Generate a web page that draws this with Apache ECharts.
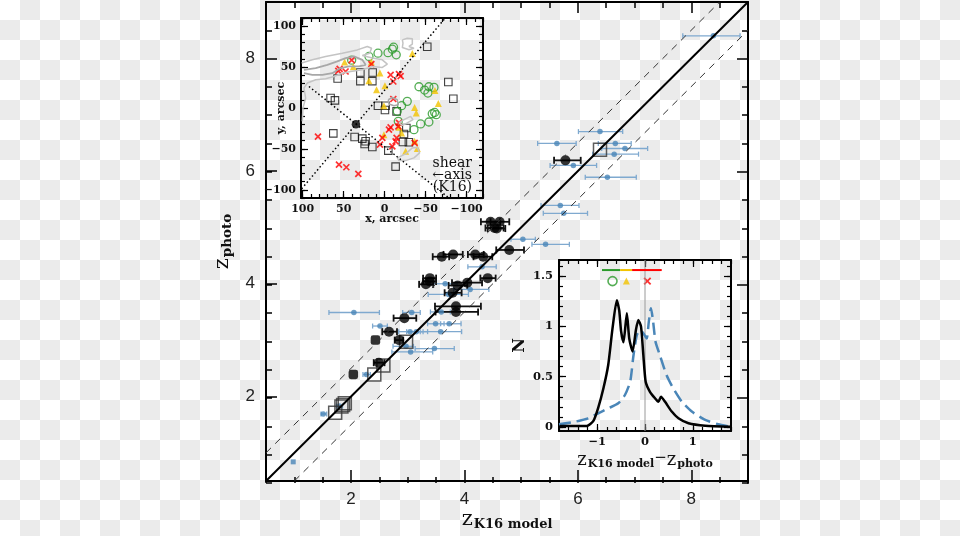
<!DOCTYPE html>
<html><head><meta charset="utf-8">
<script src="https://cdn.jsdelivr.net/npm/echarts@6/dist/echarts.min.js"></script>
<style>
html,body{margin:0;padding:0;width:960px;height:536px;overflow:hidden;
background: repeating-conic-gradient(#ebebeb 0 25%, #ffffff 0 50%) 0 0/40px 40px;}
#c{width:960px;height:536px;}
</style></head><body><div id="c"></div>
<script>
// ---------- tick values ----------
const mainMajor = [2,4,6,8];
const mainMinor = [0.5,1,1.5,2,2.5,3,3.5,4,4.5,5,5.5,6,6.5,7,7.5,8,8.5,9];
const mapMajor = [-100,-50,0,50,100];
const mapMinor = [-120,-110,-100,-90,-80,-70,-60,-50,-40,-30,-20,-10,0,10,20,30,40,50,60,70,80,90,100,110];
const histXMajor = [-1,0,1];
const histXMinor = [-1.8,-1.6,-1.4,-1.2,-1,-0.8,-0.6,-0.4,-0.2,0,0.2,0.4,0.6,0.8,1,1.2,1.4,1.6,1.8];
const histYMajor = [0,0.5,1,1.5];
const histYMinor = [0,0.1,0.2,0.3,0.4,0.5,0.6,0.7,0.8,0.9,1,1.1,1.2,1.3,1.4,1.5,1.6];

// ---------- main plot data: [zK16, zphoto, xlo, xhi] ----------
const blackPts = [
 [5.78,6.19,5.58,6.05],[4.46,5.10,4.29,4.63],[4.62,5.10,4.46,4.79],[4.53,4.99,4.37,4.69],
 [4.57,4.98,4.41,4.72],[4.79,4.60,4.56,5.05],[4.19,4.52,4.06,4.34],[4.33,4.48,4.16,4.49],
 [3.80,4.52,3.63,3.97],[3.60,4.48,3.44,3.73],[4.41,4.10,4.28,4.55],[4.05,4.02,3.78,4.31],
 [3.88,3.97,3.72,4.05],[3.79,3.84,3.65,3.95],[3.39,4.10,3.27,3.50],[3.39,4.04,3.27,3.50],
 [3.32,3.99,3.20,3.45],[3.85,3.60,3.48,4.29],[3.85,3.50,3.49,4.24],[2.94,3.39,2.75,3.15],
 [2.67,3.15,2.55,2.81],[2.85,3.00,2.77,2.92],[2.49,2.60,2.40,2.59]
];
const blackFilledSq = [[2.43,3.00],[2.04,2.39]];
const bluePts = [
 [8.39,8.40,7.85,8.86],[6.39,6.70,6.01,6.79],[5.63,6.49,5.29,5.97],[6.66,6.49,6.36,6.94],
 [6.83,6.40,6.42,7.23],[6.64,6.30,6.26,7.07],[5.92,6.10,5.51,6.33],[6.52,5.89,6.13,7.03],
 [5.69,5.39,5.35,6.02],[5.75,5.25,5.39,6.17],[5.03,4.79,4.82,5.25],[5.43,4.70,5.19,5.85],
 [4.31,4.30,4.06,4.56],[4.10,3.90,3.81,4.43],[3.66,4.00,3.45,3.87],[3.72,3.81,3.36,4.07],
 [3.49,3.29,3.35,3.64],[3.73,3.29,3.58,3.94],[3.58,3.15,3.22,3.95],[3.47,2.85,3.13,3.82],
 [2.05,3.49,1.61,2.50],[3.07,3.49,2.91,3.22],[3.59,3.50,3.40,3.75],[2.51,3.25,2.38,2.64],
 [3.04,3.15,2.84,3.27],[3.15,3.15,2.98,3.35],[2.97,2.89,2.74,3.10],[3.05,2.79,2.72,3.44],
 [2.27,2.39,2.21,2.34],[1.79,1.83,1.74,1.85],[1.51,1.69,1.47,1.57]
];
const blueNoErr = [[0.98,0.84]];
const openSq = [[6.39,6.38],[2.97,2.97],[2.57,2.55],[2.41,2.39],[1.89,1.88],[1.86,1.85],[1.83,1.82],[1.72,1.71]];
const oneToOne = [[0.5,0.5],[9,9]];
const upperDash = [[0.5,1.0],[8.5,9]];
const lowerDash = [[1.0,0.5],[9,8.5]];

// ---------- map inset data (x, y arcsec) ----------
const mapGreen = [[40.2,58.5],[19.1,63],[8.1,67],[-4.1,67.6],[-9.4,71.9],[-10.9,74.3],[-14.2,65],
 [-41.9,26],[-48.8,21.9],[-54,26],[-60.2,25.2],[-52.8,18.3],[-27.6,8.1],[-20.7,2.8],[-15.4,-4.1],
 [-16.7,-16.3],[-35.8,-26.5],[-43.9,-19.5],[-54,-17.1],[-58.1,-7],[-61,-5.4],[-63,-8.2]];
const mapYellow = [[48.8,56.1],[38.2,50.4],[16.2,56.1],[5.7,42.7],[-0.4,27.2],[9.8,22.3],[19.1,33.3],
 [0.8,2.8],[-33.8,66.6],[-61.4,21.5],[-65.5,5.6],[-36.6,0.7],[-38.6,-6.1],[-17.5,-23.6],[0.8,-32.6],
 [-36.6,-40.7],[-25.6,-52.9],[-39.9,-49.6],[-20.7,-30.5]];
const mapRed = [[40.2,58.5],[54.9,47.9],[56.5,45.4],[47.6,44.6],[16.2,53.7],[-7.3,40.6],[-10.6,32.4],
 [-17.5,41.5],[-19.5,39],[-10.6,11],[-17.5,-18.3],[-16.7,-22.4],[-7.3,-23.6],[-5.3,-26.5],
 [-14.6,-36.6],[-13.4,-40.7],[2.8,-36.6],[5.7,-44.8],[-9.4,-46.8],[-36.6,-42.7],[81.3,-35],
 [55.7,-69.1],[46.7,-72.4],[32.1,-80.5]];
const mapSquares = [[57.3,36.1],[29.6,43.4],[14.6,43.4],[29.6,32.9],[15,32.9],[65.9,12.2],[60.6,9.3],
 [8.1,2.8],[-1.2,2.8],[-0.4,-2.4],[-14.6,-4.1],[-52,74.8],[-77.7,31.7],[-83.8,11.3],[62.6,-31],
 [36.6,-35.4],[27.2,-37.4],[23.2,-40.7],[24.4,-44],[15,-47.6],[-4.5,-52.1],[-22.3,-41.5],
 [-23.6,-31.7],[-26.5,-24.4],[-29.6,-41.9],[-13.4,-71.6]];
const mapCenter = [[35,-20]];
const shearLine1 = [[110.6,-110],[-74,110]];
const shearLine2 = [[92.3,26.3],[-78.4,-110]];
const contourA = [[101.2,54.9],[88.2,58.9],[72,62.9],[51.6,67],[33.3,71],[21.1,75.2],[15.9,73.1],
 [18.3,67],[27.2,64.2],[15,61],[2.8,58.9],[-3.3,53.7],[2.8,49.6],[15,50.8],[27.2,46.7],[41.5,44.6],
 [51.6,42.6],[61.8,38.5],[72,35.7],[84.1,34.6],[94.3,30.5],[98.4,24.4],[96.3,12.2],[99.6,0],[100.4,-16.3]];
const contourB = [[98.4,46.7],[84.1,48.8],[69.9,52.8],[57.7,56.9],[47.6,61],[37.4,63],[27.2,58.9],
 [23.2,52.8],[31.3,50.8],[43.5,50.8],[53.7,48.8],[63.8,42.6],[76,40.6],[88.2,40.6],[98.4,42.6]];
const contourC = [[-21.6,83.3],[-27.6,85.3],[-33.8,84.5],[-33.8,78],[-29.7,75.2],[-35.8,73.1],
 [-29.7,71.1],[-21.6,73.9],[-22.4,79.2],[-21.6,83.3]];
const contourD = [[-4.5,10.1],[-9.4,12.9],[-15.4,10.1],[-16.7,4],[-11.4,2.8],[-5.3,4.9],[-4.5,10.1]];
const contourE = [[-17.5,-18.3],[-23.6,-14.3],[-31.7,-10.2],[-34.6,-14.3],[-27.6,-18.3],[-21.6,-21.2],[-17.5,-18.3]];
const contourF = [[-15.4,-61],[-25.6,-56.1],[-33.8,-48.8],[-39.9,-47.9],[-42.7,-54.9],[-35.8,-61],
 [-25.6,-64.3],[-17.5,-64.3],[-15.4,-61]];

// ---------- histogram inset data ----------
const curveK16 = [[-1.78,0.01],[-1.22,0.01],[-1.08,0.06],[-0.98,0.19],[-0.87,0.385],[-0.77,0.616],
 [-0.68,0.98],[-0.59,1.26],[-0.54,1.16],[-0.50,0.95],[-0.45,0.842],[-0.38,1.13],[-0.33,0.88],
 [-0.26,0.75],[-0.19,0.965],[-0.14,1.064],[-0.083,0.998],[-0.035,0.716],[0.014,0.45],[0.104,0.35],
 [0.21,0.285],[0.28,0.25],[0.335,0.30],[0.42,0.25],[0.56,0.153],[0.70,0.086],[0.91,0.037],
 [1.26,0.013],[1.79,0.003]];
const curveBlue = [[-1.80,0.027],[-1.46,0.053],[-1.19,0.086],[-0.98,0.136],[-0.77,0.185],[-0.56,0.235],
 [-0.42,0.318],[-0.31,0.45],[-0.24,0.716],[-0.17,0.915],[-0.10,0.965],[-0.035,0.932],[0.035,0.88],
 [0.08,1.047],[0.125,1.18],[0.17,1.047],[0.22,0.848],[0.31,0.716],[0.45,0.517],[0.59,0.385],
 [0.77,0.252],[0.98,0.153],[1.26,0.07],[1.53,0.027],[1.79,0.003]];
const zeroLine = [[0,-0.04],[0,1.66]];
const legGreen = [[-0.90,1.56],[-0.52,1.56]];
const legYellow = [[-0.52,1.56],[-0.27,1.56]];
const legRed = [[-0.27,1.56],[0.35,1.56]];
const legCircle = [[-0.68,1.45]];
const legTri = [[-0.39,1.45]];
const legCross = [[0.05,1.45]];

// ---------- build ----------
const grids = [], xAxes = [], yAxes = [];
function frame(rect, xr, yr, c){
  const defs = [['bottom','left',true,true],['bottom','left',false,false],['top','right',true,false],['top','right',false,false]];
  let first = -1;
  defs.forEach(function(d){
    grids.push({left:rect[0],top:rect[1],width:rect[2],height:rect[3]});
    const gi = grids.length-1;
    if (first < 0) first = gi;
    const xa = {gridIndex:gi,type:'value',min:xr[0],max:xr[1],inverse:!!c.xInv,position:d[0],
      axisLine:{show:d[2],onZero:false,lineStyle:{color:'#000',width:c.lw}},
      axisTick:{show:true,inside:true,length:d[2]?c.maj:c.mn,customValues:d[2]?c.xMaj:c.xMin,lineStyle:{color:'#000',width:c.tw}},
      axisLabel:d[3]?Object.assign({show:true,customValues:c.xMaj},c.xLab):{show:false},
      splitLine:{show:false}};
    if (d[3] && c.xName) Object.assign(xa, {nameMoveOverlap:false}, c.xName);
    const ya = {gridIndex:gi,type:'value',min:yr[0],max:yr[1],position:d[1],
      axisLine:{show:d[2],onZero:false,lineStyle:{color:'#000',width:c.lw}},
      axisTick:{show:true,inside:true,length:d[2]?c.maj:c.mn,customValues:d[2]?c.yMaj:c.yMin,lineStyle:{color:'#000',width:c.tw}},
      axisLabel:d[3]?Object.assign({show:true,customValues:c.yMaj},c.yLab):{show:false},
      splitLine:{show:false}};
    if (d[3] && c.yName) Object.assign(ya, {nameMoveOverlap:false}, c.yName);
    xAxes.push(xa); yAxes.push(ya);
  });
  return first;
}
const serif = "'DejaVu Serif','DejaVu Sans'";
const minusFmt = function(v){ return v < 0 ? '\u2212' + Math.abs(v) : String(v); };

const gMain = frame([266,2,482,481],[0.5,9],[0.5,9],{
  lw:2, tw:1.5, maj:11, mn:6, xMaj:mainMajor, xMin:mainMinor, yMaj:mainMajor, yMin:mainMinor,
  xLab:{fontFamily:"'Liberation Sans'",fontSize:17,color:'#222',margin:10},
  yLab:{fontFamily:"'Liberation Sans'",fontSize:17,color:'#222',margin:11},
  xName:{name:'{z|z}{s|K16 model}',nameLocation:'middle',nameGap:28,
    nameTextStyle:{color:'#111',rich:{z:{fontFamily:serif,fontSize:21,lineHeight:22,verticalAlign:'top',color:'#111'},
      s:{fontFamily:serif,fontSize:13,fontWeight:'bold',lineHeight:13,padding:[10,0,0,1],verticalAlign:'bottom',color:'#111'}}}},
  yName:{name:'{z|z}{s|photo}',nameLocation:'middle',nameGap:32,
    nameTextStyle:{color:'#111',rich:{z:{fontFamily:serif,fontSize:21,lineHeight:22,verticalAlign:'top',color:'#111'},
      s:{fontFamily:serif,fontSize:13.5,fontWeight:'bold',lineHeight:13,padding:[10,0,0,1],verticalAlign:'bottom',color:'#111'}}}}
});
const gMap = frame([301,18,182,180],[-120,102],[-110,110],{
  lw:2, tw:1.2, maj:7, mn:4, xInv:true, xMaj:mapMajor, xMin:mapMinor, yMaj:mapMajor, yMin:mapMinor,
  xLab:{fontFamily:serif,fontSize:11,fontWeight:'bold',color:'#111',margin:6,formatter:minusFmt},
  yLab:{fontFamily:serif,fontSize:11,fontWeight:'bold',color:'#111',margin:5,formatter:minusFmt},
  xName:{name:'x, arcsec',nameLocation:'middle',nameGap:16,nameTextStyle:{fontFamily:serif,fontSize:11,fontWeight:'bold',color:'#111'}},
  yName:{name:'y, arcsec',nameLocation:'middle',nameGap:14,nameTextStyle:{fontFamily:serif,fontSize:11,fontWeight:'bold',color:'#111'}}
});
const gHist = frame([559,260,172,171],[-1.8,1.8],[-0.04,1.66],{
  lw:2, tw:1.2, maj:7, mn:4, xMaj:histXMajor, xMin:histXMinor, yMaj:histYMajor, yMin:histYMinor,
  xLab:{fontFamily:serif,fontSize:11.5,fontWeight:'bold',color:'#111',margin:5,formatter:minusFmt},
  yLab:{fontFamily:serif,fontSize:11.5,fontWeight:'bold',color:'#111',margin:6,formatter:minusFmt},
  xName:{name:'{z|z}{s|K16 model}{m|\u2212}{z|z}{s|photo}',nameLocation:'middle',nameGap:20,
    nameTextStyle:{color:'#111',rich:{z:{fontFamily:serif,fontSize:18,lineHeight:19,verticalAlign:'top',color:'#111'},
      m:{fontFamily:serif,fontSize:15,lineHeight:19,verticalAlign:'top',color:'#111'},
      s:{fontFamily:serif,fontSize:11,fontWeight:'bold',lineHeight:11,padding:[9,0,0,1],verticalAlign:'bottom',color:'#111'}}}},
  yName:{name:'N',nameLocation:'middle',nameGap:31,nameTextStyle:{fontFamily:serif,fontSize:16,fontWeight:'bold',color:'#111'}}
});

function errBars(color, cap, lw){
  return function(params, api){
    const y = api.value(1), lo = api.value(2), hi = api.value(3);
    const p1 = api.coord([lo,y]), p2 = api.coord([hi,y]);
    const st = {stroke:color, lineWidth:lw};
    return {type:'group', children:[
      {type:'line', shape:{x1:p1[0],y1:p1[1],x2:p2[0],y2:p2[1]}, style:st},
      {type:'line', shape:{x1:p1[0],y1:p1[1]-cap,x2:p1[0],y2:p1[1]+cap}, style:st},
      {type:'line', shape:{x1:p2[0],y1:p2[1]-cap,x2:p2[0],y2:p2[1]+cap}, style:st}
    ]};
  };
}
function lineS(g, data, color, width, type, extra){
  return Object.assign({type:'line', xAxisIndex:g, yAxisIndex:g, data:data, symbol:'none', silent:true,
    lineStyle:{color:color, width:width, type:type||'solid'}}, extra||{});
}
function scat(g, data, symbol, size, style, extra){
  return Object.assign({type:'scatter', xAxisIndex:g, yAxisIndex:g, data:data, symbol:symbol, symbolSize:size,
    itemStyle:style, silent:true, encode:{x:0,y:1}}, extra||{});
}
const crossPath = 'path://M0,0L10,10M10,0L0,10';
const blue = '#4a86b8';

const series = [
  lineS(gMain, oneToOne, '#000', 2),
  lineS(gMain, upperDash, '#333', 1, [7,6]),
  lineS(gMain, lowerDash, '#333', 1, [7,6]),
  {type:'custom', xAxisIndex:gMain, yAxisIndex:gMain, data:bluePts, renderItem:errBars('#7fa9cf',2.5,1.3), encode:{x:[0,2,3],y:1}, silent:true},
  scat(gMain, bluePts, 'circle', 5.5, {color:blue}),
  scat(gMain, blueNoErr, 'rect', 5, {color:blue}),
  scat(gMain, openSq, 'rect', 13, {color:'transparent', borderColor:'#333', borderWidth:1.5}),
  {type:'custom', xAxisIndex:gMain, yAxisIndex:gMain, data:blackPts, renderItem:errBars('#111',3.5,1.8), encode:{x:[0,2,3],y:1}, silent:true},
  scat(gMain, blackPts, 'circle', 10, {color:'#000'}),
  scat(gMain, blackFilledSq, 'roundRect', 9.5, {color:'#000'}),

  lineS(gMap, contourA, '#c4c4c4', 1.5),
  lineS(gMap, contourB, '#a8a8a8', 1.8),
  lineS(gMap, contourC, '#c4c4c4', 1.5),
  lineS(gMap, contourD, '#a8a8a8', 1.5),
  lineS(gMap, contourE, '#c4c4c4', 1.5),
  lineS(gMap, contourF, '#c4c4c4', 1.5),
  lineS(gMap, shearLine1, '#000', 1.5, [1.5,2.5]),
  lineS(gMap, shearLine2, '#000', 1.5, [1.5,2.5]),
  scat(gMap, mapSquares, 'rect', 7.5, {color:'transparent', borderColor:'#111', borderWidth:1.1}),
  scat(gMap, mapGreen, 'circle', 8, {color:'transparent', borderColor:'#2a9a2a', borderWidth:1.3}),
  scat(gMap, mapYellow, 'triangle', 7, {color:'#f3c300'}),
  scat(gMap, mapRed, crossPath, 6, {color:'transparent', borderColor:'#ff0000', borderWidth:1.7}),
  scat(gMap, mapCenter, 'circle', 8.5, {color:'#000'}),

  lineS(gHist, zeroLine, '#9a9a9a', 1),
  lineS(gHist, curveBlue, blue, 2.5, [12,6], {smooth:0.2}),
  lineS(gHist, curveK16, '#000', 2.5, 'solid', {smooth:0.2}),
  lineS(gHist, legGreen, '#2a9a2a', 2),
  lineS(gHist, legYellow, '#f3c300', 2),
  lineS(gHist, legRed, '#ff0000', 2),
  scat(gHist, legCircle, 'circle', 9, {color:'transparent', borderColor:'#2a9a2a', borderWidth:1.6}),
  scat(gHist, legTri, 'triangle', 7, {color:'#f3c300'}),
  scat(gHist, legCross, crossPath, 6.5, {color:'transparent', borderColor:'#ff0000', borderWidth:1.8})
];

const chart = echarts.init(document.getElementById('c'), null, {renderer:'canvas'});
chart.setOption({
  animation:false,
  backgroundColor:'transparent',
  grid:grids, xAxis:xAxes, yAxis:yAxes, series:series,
  graphic:[
    {type:'text', x:472, y:156, style:{text:'shear', textAlign:'right', font:"14px 'DejaVu Serif'", fill:'#111'}},
    {type:'text', x:472, y:168, style:{text:'\u2190axis', textAlign:'right', font:"14px 'DejaVu Serif','DejaVu Sans'", fill:'#111'}},
    {type:'text', x:472, y:180, style:{text:'(K16)', textAlign:'right', font:"14px 'DejaVu Serif'", fill:'#111'}}
  ]
});
</script></body></html>
